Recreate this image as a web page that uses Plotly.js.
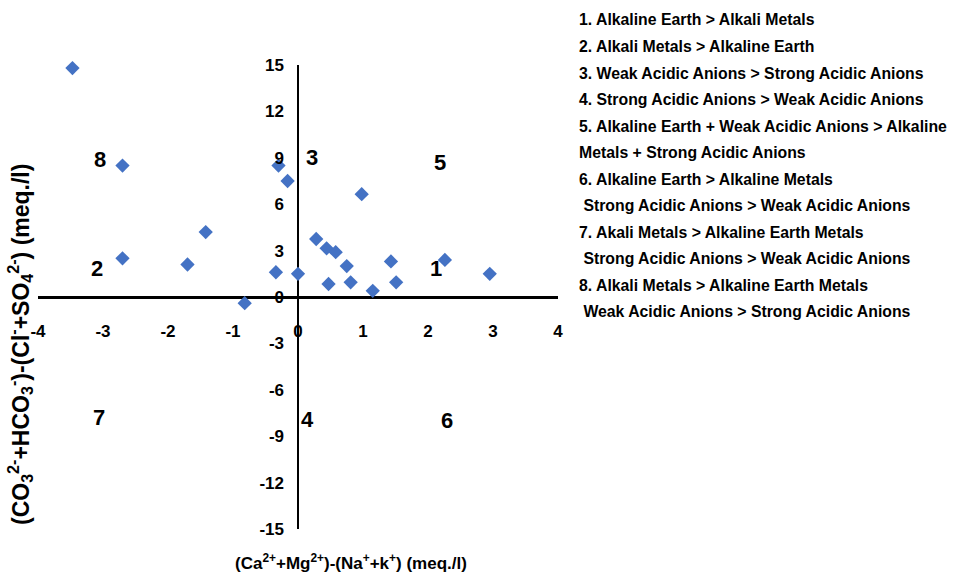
<!DOCTYPE html>
<html>
<head>
<meta charset="utf-8">
<script src="https://cdn.plot.ly/plotly-3.0.1.min.js"></script>
<style>
  html, body { margin: 0; padding: 0; background: #fff; }
  #chart { width: 953px; height: 576px; }
</style>
</head>
<body>
<div id="chart"></div>
<script>
// Samples: cation balance (x) vs anion balance (y), meq./l
const xCation = [-3.47, -2.70, -2.70, -1.70, -1.42, -0.82, -0.34, -0.30, -0.16, 0.00,
                 0.28, 0.44, 0.58, 0.47, 0.75, 0.81, 0.98, 1.15, 1.43, 1.51, 2.26, 2.95];
const yAnion  = [14.8, 8.5, 2.5, 2.1, 4.2, -0.4, 1.6, 8.5, 7.5, 1.5,
                 3.75, 3.15, 2.9, 0.84, 2.0, 0.95, 6.65, 0.4, 2.3, 0.95, 2.4, 1.5];

// Axis ticks
const xTickVals = [-4, -3, -2, -1, 0, 1, 2, 3, 4];
const xTickText = ['-4', '-3', '-2', '-1', '0', '1', '2', '3', '4'];
const yTickVals = [-15, -12, -9, -6, -3, 0, 3, 6, 9, 12, 15];
const yTickText = ['-15', '-12', '-9', '-6', '-3', '0', '3', '6', '9', '12', '15'];

// Field numbers and their positions on the diagram
const fieldNames = ['1', '2', '3', '4', '5', '6', '7', '8'];
const fieldX = [2.12, -3.09, 0.22, 0.15, 2.18, 2.29, -3.06, -3.05];
const fieldY = [1.87, 1.87, 9.05, -7.95, 8.7, -8.0, -7.8, 8.86];

// Key describing each field
const keyLines = [
  '1. Alkaline Earth > Alkali Metals',
  '2. Alkali Metals > Alkaline Earth',
  '3. Weak Acidic Anions > Strong Acidic Anions',
  '4. Strong Acidic Anions > Weak Acidic Anions',
  '5. Alkaline Earth + Weak Acidic Anions > Alkaline',
  'Metals + Strong Acidic Anions',
  '6. Alkaline Earth > Alkaline Metals',
  '\u00a0Strong Acidic Anions > Weak Acidic Anions',
  '7. Akali Metals > Alkaline Earth Metals',
  '\u00a0Strong Acidic Anions > Weak Acidic Anions',
  '8. Alkali Metals > Alkaline Earth Metals',
  '\u00a0Weak Acidic Anions > Strong Acidic Anions'
];

const xTitle = '(Ca<sup>2+</sup>+Mg<sup>2+</sup>)-(Na<sup>+</sup>+k<sup>+</sup>) (meq./l)';
const yTitle = '(CO<sub>3</sub><sup>2-</sup>+HCO<sub>3</sub><sup>-</sup>)-(Cl<sup>-</sup>+SO<sub>4</sub><sup>2-</sup>) (meq./l)';

const W = 953, H = 576;
const M = { l: 38, r: 395, t: 65, b: 47 };
const plotW = W - M.l - M.r, plotH = H - M.t - M.b;
const px2paperX = p => (p - M.l) / plotW;
const px2paperY = p => (H - M.b - p) / plotH;

const FAMILY = 'Liberation Sans, Arial, sans-serif';
const font = size => ({ family: FAMILY, size: size, color: '#000', weight: 'bold' });

const annotations = [];

fieldNames.forEach((t, i) => {
  annotations.push({
    x: fieldX[i], y: fieldY[i], xref: 'x', yref: 'y', text: t, showarrow: false,
    font: font(22), xanchor: 'center', yanchor: 'middle'
  });
});

keyLines.forEach((t, i) => {
  annotations.push({
    x: px2paperX(577), y: px2paperY(20 + i * 26.5), xref: 'paper', yref: 'paper',
    text: t, showarrow: false, xanchor: 'left', yanchor: 'middle', align: 'left',
    font: font(15.8)
  });
});

annotations.push({
  x: px2paperX(351), y: px2paperY(562), xref: 'paper', yref: 'paper', text: xTitle,
  showarrow: false, xanchor: 'center', yanchor: 'middle', font: font(17)
});
annotations.push({
  x: px2paperX(20), y: px2paperY(345), xref: 'paper', yref: 'paper', text: yTitle,
  showarrow: false, textangle: -90, xanchor: 'center', yanchor: 'middle', font: font(23)
});

const trace = {
  type: 'scatter', mode: 'markers', x: xCation, y: yAnion, cliponaxis: false,
  marker: { symbol: 'diamond', size: 11, color: '#4472C4', line: { width: 0 } },
  textfont: { family: FAMILY, size: 12, color: '#000' },
  hoverinfo: 'x+y'
};

const layout = {
  width: W, height: H, margin: M,
  paper_bgcolor: '#fff', plot_bgcolor: '#fff',
  showlegend: false,
  font: { family: FAMILY, size: 14, color: '#000' },
  xaxis: {
    range: [-4, 4], anchor: 'free', position: 0.5,
    tickmode: 'array', tickvals: xTickVals, ticktext: xTickText,
    showgrid: false, showline: false, ticks: '',
    zeroline: true, zerolinecolor: '#000', zerolinewidth: 2.5,
    ticklabelstandoff: 22, tickfont: font(17)
  },
  yaxis: {
    range: [-15, 15], anchor: 'free', position: 0.5,
    tickmode: 'array', tickvals: yTickVals, ticktext: yTickText,
    showgrid: false, showline: false, ticks: '',
    zeroline: true, zerolinecolor: '#000', zerolinewidth: 3,
    ticklabelstandoff: 14, tickfont: font(17)
  },
  annotations: annotations
};

Plotly.newPlot('chart', [trace], layout, { displayModeBar: false, staticPlot: true });
</script>
</body>
</html>
